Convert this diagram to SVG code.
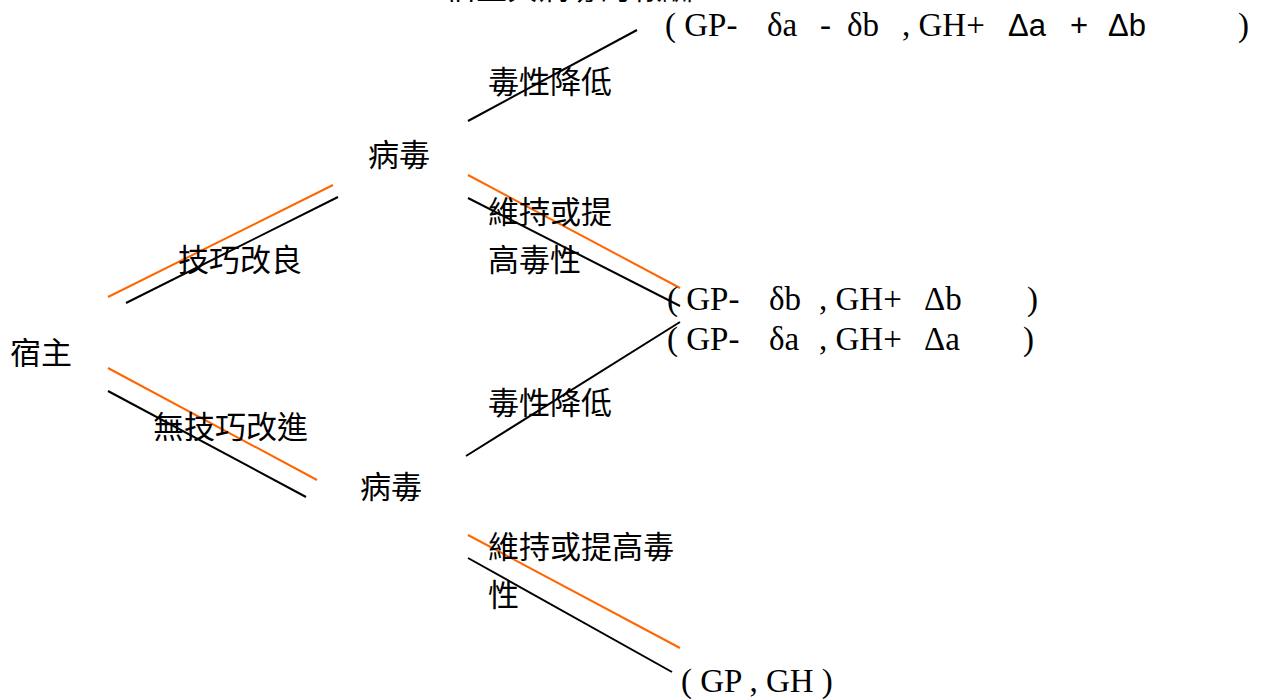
<svg xmlns="http://www.w3.org/2000/svg" width="1263" height="700" viewBox="0 0 1263 700">
<style>
.cjk{font-family:"Noto Sans CJK TC","Noto Sans CJK SC",sans-serif;font-size:31px;fill:#000}
.lat{font-family:"Liberation Serif",serif;font-size:33px;fill:#000}
.sans{font-family:"Liberation Sans",sans-serif;font-size:31px}
.k{stroke:#000;stroke-width:2;fill:none}
.o{stroke:#ff6600;stroke-width:2;fill:none}
</style>
<rect width="1263" height="700" fill="#fff"/>
<g id="connectors">
<line class="o" x1="108" y1="297" x2="333" y2="185"/>
<line class="k" x1="126" y1="303" x2="338" y2="197"/>
<line class="o" x1="108" y1="368" x2="317" y2="480"/>
<line class="k" x1="108" y1="391" x2="306" y2="497"/>
<line class="k" x1="468" y1="121" x2="637" y2="30"/>
<line class="o" x1="468" y1="175" x2="680" y2="288"/>
<line class="k" x1="468" y1="198" x2="680" y2="306"/>
<line class="k" x1="466" y1="456" x2="680" y2="322"/>
<line class="o" x1="468" y1="535" x2="680" y2="648"/>
<line class="k" x1="468" y1="558" x2="672" y2="672"/>
</g>
<g id="top-cut"><text class="cjk" x="445" y="-1">宿主與病毒的報酬</text></g>
<g id="host"><text class="cjk" x="10" y="364">宿主</text></g>
<g id="label-improve"><text class="cjk" x="178" y="271">技巧改良</text></g>
<g id="label-noimprove"><text class="cjk" x="153" y="438">無技巧改進</text></g>
<g id="virus-top"><text class="cjk" x="368" y="166">病毒</text></g>
<g id="virus-bottom"><text class="cjk" x="360" y="498">病毒</text></g>
<g id="label-reduce-top"><text class="cjk" x="488" y="93">毒性降低</text></g>
<g id="label-keep-top"><text class="cjk" x="488" y="223">維持或提</text><text class="cjk" x="488" y="271">高毒性</text></g>
<g id="label-reduce-bottom"><text class="cjk" x="488" y="414">毒性降低</text></g>
<g id="label-keep-bottom"><text class="cjk" x="488" y="558">維持或提高毒</text><text class="cjk" x="488" y="606">性</text></g>
<g id="payoff-1"><text class="lat" y="36"><tspan x="665">( GP-</tspan><tspan x="767">δa</tspan><tspan x="820">-</tspan><tspan x="847">δb</tspan><tspan x="902">, GH+</tspan><tspan class="sans" x="1008">Δa</tspan><tspan class="sans" x="1070">+</tspan><tspan class="sans" x="1108">Δb</tspan><tspan x="1238">)</tspan></text></g>
<g id="payoff-2"><text class="lat" y="310"><tspan x="667">( GP-</tspan><tspan x="769">δb</tspan><tspan x="819">, GH+</tspan><tspan x="924">Δb</tspan><tspan x="1027">)</tspan></text></g>
<g id="payoff-3"><text class="lat" y="350"><tspan x="667">( GP-</tspan><tspan x="769">δa</tspan><tspan x="819">, GH+</tspan><tspan x="924">Δa</tspan><tspan x="1023">)</tspan></text></g>
<g id="payoff-4"><text class="lat" x="681" y="692">( GP , GH )</text></g>
</svg>
